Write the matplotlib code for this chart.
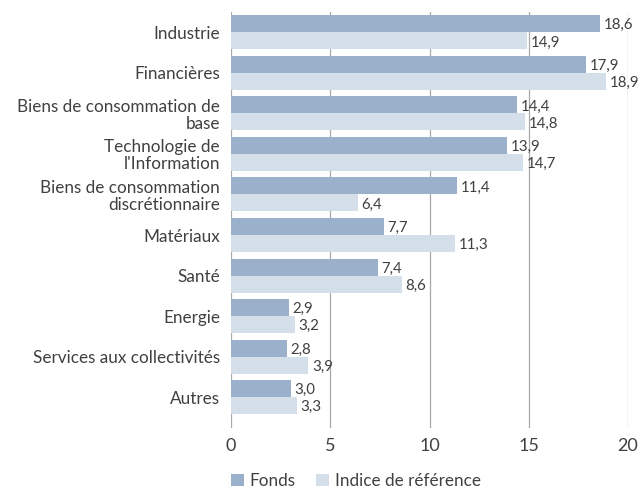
import matplotlib.pyplot as plt
import numpy as np

categories = ["Industrie", "Financières", "Biens de consommation de\nbase",
              "Technologie de\nl'Information", "Biens de consommation\ndiscrétionnaire",
              "Matériaux", "Santé", "Energie", "Services aux collectivités", "Autres"]
fonds = [18.6, 17.9, 14.4, 13.9, 11.4, 7.7, 7.4, 2.9, 2.8, 3.0]
indice = [14.9, 18.9, 14.8, 14.7, 6.4, 11.3, 8.6, 3.2, 3.9, 3.3]
xticks = [0, 5, 10, 15, 20]

plt.rcParams['font.family'] = ['Lato', 'DejaVu Sans']
txt = '#404040'
c_f = '#9bb0cb'
c_i = '#d5dfea'

fig = plt.figure(figsize=(6.43, 4.93), dpi=100)
ax = fig.add_axes([231/643, 1-428/493, (628-231)/643, (428-12)/493])
y = np.arange(len(categories))
h = 0.42
b1 = ax.barh(y - h/2, fonds, height=h, color=c_f, label='Fonds', zorder=3)
b2 = ax.barh(y + h/2, indice, height=h, color=c_i, label='Indice de référence', zorder=3)
for bars, vals in ((b1, fonds), (b2, indice)):
    for r, v in zip(bars, vals):
        ax.text(r.get_width() + 0.18, r.get_y() + r.get_height()/2 + 0.04,
                f"{v:.1f}".replace('.', ','), va='center', ha='left',
                fontsize=10.8, color=txt, zorder=4)
ax.set_xlim(0, 20)
ax.set_ylim(9.76, -0.5)
ax.set_xticks(xticks)
ax.set_yticks(y)
ax.set_yticklabels(categories, fontsize=12.3, color=txt, linespacing=1.05)
ax.tick_params(axis='both', length=0, pad=8)
ax.tick_params(axis='x', labelsize=13, labelcolor=txt, pad=7)
ax.grid(axis='x', color='#a8a8a8', linewidth=0.9, zorder=0)
for s in ax.spines.values():
    s.set_visible(False)
fig.legend(loc='center left', bbox_to_anchor=(231/643, 1-481/493), ncol=2,
           frameon=False, fontsize=12.3, handlelength=0.75, handleheight=0.75,
           handletextpad=0.35, columnspacing=1.2, borderaxespad=0, borderpad=0,
           labelcolor=txt)
fig.savefig('out.png', dpi=100)
